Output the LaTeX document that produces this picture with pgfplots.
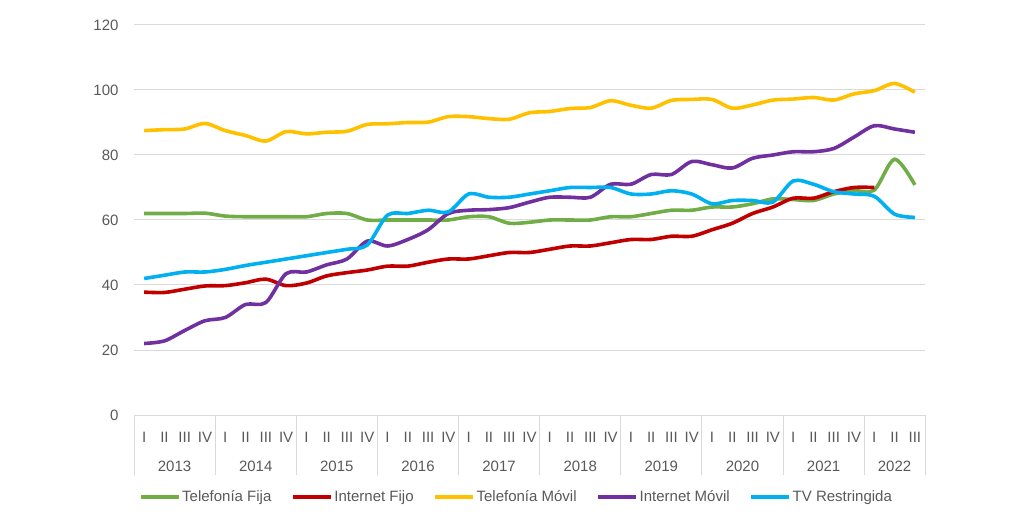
\documentclass[border=0pt]{standalone}
\usepackage{fontspec}
\setmainfont{Liberation Sans}
\usepackage{pgfplots}
\usepackage{pgfplotstable}
\pgfplotsset{compat=1.18}
\definecolor{cgreen}{HTML}{70AD47}
\definecolor{cred}{HTML}{C00000}
\definecolor{cyellow}{HTML}{FFC000}
\definecolor{cpurple}{HTML}{7030A0}
\definecolor{ccyan}{HTML}{00B0F0}
\definecolor{txt}{HTML}{595959}
\definecolor{gridc}{HTML}{D9D9D9}

\pgfplotstableread{
x y
0 62
1 62
2 62
3 62.1
4 61.2
5 61
6 61
7 61
8 61
9 62
10 62
11 60
12 60
13 60
14 60
15 60
16 61
17 61
18 59
19 59.3
20 60
21 60
22 60
23 61
24 61
25 62
26 63
27 63
28 64
29 64
30 65
31 66.5
32 66.3
33 66
34 68
35 69
36 69.2
37 78.7
38 70.8
}\fija

\pgfplotstableread{
x y
0 37.8
1 37.7
2 38.7
3 39.7
4 39.8
5 40.7
6 41.8
7 39.8
8 40.6
9 42.8
10 43.8
11 44.6
12 45.8
13 45.8
14 47
15 48
16 48
17 49
18 50
19 50
20 51
21 52
22 52
23 53
24 54
25 54
26 55
27 55
28 57
29 59
30 62
31 64
32 66.7
33 66.7
34 68.7
35 70
36 70
}\ifijo

\pgfplotstableread{
x y
0 87.5
1 87.8
2 88
3 89.7
4 87.5
5 86
6 84.3
7 87.2
8 86.5
9 87
10 87.3
11 89.4
12 89.6
13 90
14 90.1
15 91.8
16 91.8
17 91.2
18 91
19 93
20 93.4
21 94.3
22 94.6
23 96.7
24 95.3
25 94.4
26 96.8
27 97.1
28 97.1
29 94.4
30 95.4
31 96.9
32 97.2
33 97.7
34 96.9
35 98.8
36 99.8
37 102
38 99.3
}\movil

\pgfplotstableread{
x y
0 22
1 22.8
2 26
3 29
4 30
5 34
6 34.6
7 43.5
8 44
9 46.2
10 48
11 53.5
12 52
13 54
14 57
15 62
16 63
17 63.2
18 63.8
19 65.5
20 67
21 67
22 67
23 71
24 71
25 74
26 74
27 78
28 77
29 76
30 79
31 80
32 81
33 81
34 82
35 85.5
36 89
37 88
38 87
}\imovil

\pgfplotstableread{
x y
0 42
1 43
2 44
3 44
4 44.8
5 46
6 47
7 48
8 49
9 50
10 51
11 52.3
12 61.5
13 62
14 63
15 62.5
16 68
17 67
18 67
19 68
20 69
21 70
22 70
23 70
24 68
25 68
26 69
27 68
28 65
29 66
30 66
31 65.5
32 72
33 71
34 68.7
35 68
36 67.3
37 61.8
38 60.8
}\tv

\begin{document}
\begin{tikzpicture}[x=1pt,y=1pt]
\path[use as bounding box] (0,0) rectangle (1024,530);
\begin{axis}[
  at={(134pt,115pt)}, anchor=south west,
  scale only axis, width=791pt, height=390pt,
  xmin=-0.5, xmax=38.5, ymin=0, ymax=120,
  ytick={0,20,40,60,80,100,120},
  ymajorgrids, grid style={draw=gridc, line width=1pt},
  axis line style={draw=none},
  tick pos=left,
  xtick={0,...,38},
  xticklabels={I,II,III,IV,I,II,III,IV,I,II,III,IV,I,II,III,IV,I,II,III,IV,I,II,III,IV,I,II,III,IV,I,II,III,IV,I,II,III,IV,I,II,III},
  major tick length=0pt,
  minor xtick={-0.5,3.5,7.5,11.5,15.5,19.5,23.5,27.5,31.5,35.5,38.5},
  minor tick length=60pt, tick align=outside,
  minor tick style={draw=gridc, line width=1pt},
  /pgf/number format/assume math mode=true,
  ticklabel style={font=\fontsize{15}{18}\selectfont, text=txt},
  xticklabel style={anchor=base, yshift=-27pt},
  yticklabel style={anchor=east, xshift=-12pt},
  extra x ticks={1.5,5.5,9.5,13.5,17.5,21.5,25.5,29.5,33.5,37},
  extra x tick labels={2013,2014,2015,2016,2017,2018,2019,2020,2021,2022},
  extra x tick style={major tick length=0pt, xticklabel style={yshift=-29pt}},
  legend style={at={(0.483,-0.21)}, anchor=center, draw=none, fill=none,
    font=\fontsize{15}{18}\selectfont, text=txt, inner sep=0pt,
    /tikz/every even column/.append style={column sep=18pt},
    nodes={inner sep=1.5pt}},
  legend columns=-1,
  legend image code/.code={\draw[#1, line width=4pt] (0pt,0pt) -- (38pt,0pt);},
  every axis plot/.append style={line width=3.6pt, smooth, tension=0.5},
]
\addplot[cgreen] table[x=x,y=y] {\fija};
\addlegendentry{Telefonía Fija}
\addplot[cred] table[x=x,y=y] {\ifijo};
\addlegendentry{Internet Fijo}
\addplot[cyellow] table[x=x,y=y] {\movil};
\addlegendentry{Telefonía Móvil}
\addplot[cpurple] table[x=x,y=y] {\imovil};
\addlegendentry{Internet Móvil}
\addplot[ccyan] table[x=x,y=y] {\tv};
\addlegendentry{TV Restringida}
\end{axis}
\end{tikzpicture}
\end{document}
